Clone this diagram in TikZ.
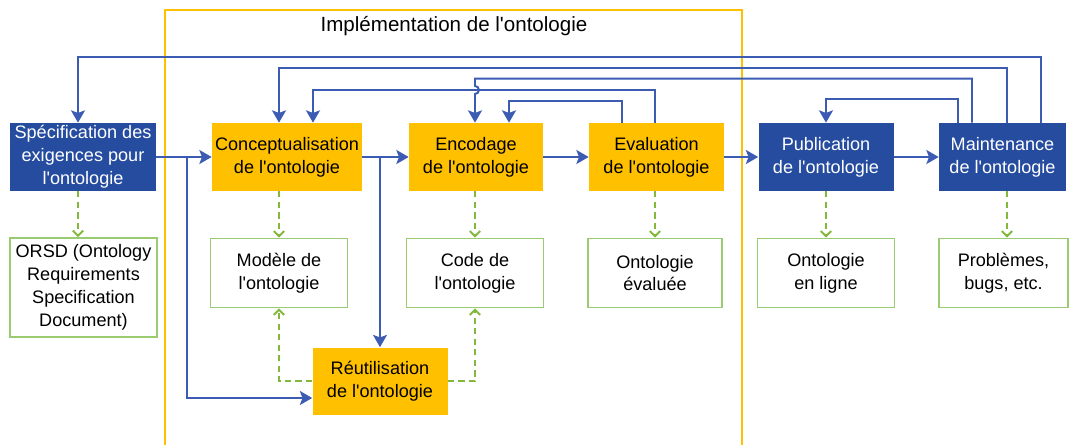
\documentclass[tikz,border=0pt]{standalone}
\usepackage{fontspec}
\setmainfont{Liberation Sans}[Ligatures=TeXOff]
\usetikzlibrary{arrows.meta}
\newdimen\pxu \pxu=0.02cm
\definecolor{boxblue}{RGB}{38,76,160}
\definecolor{lineblue}{RGB}{60,92,180}
\definecolor{gold}{RGB}{255,192,0}
\definecolor{dgreen}{RGB}{130,185,60}
\definecolor{bgreen}{RGB}{155,203,112}
\begin{document}
\begin{tikzpicture}[x=0.02cm,y=-0.02cm,
  base/.style={align=center, inner sep=0pt, font=\fontsize{10.3}{13}\selectfont},
  bluebox/.style={base, fill=boxblue, text=white, minimum height=68\pxu},
  goldbox/.style={base, fill=gold, text=black, minimum height=68\pxu},
  outbox/.style={base, draw=bgreen, line width=0.9pt, fill=white},
  flow/.style={draw=lineblue, line width=1.1pt, -{Stealth[length=7pt,width=8pt,inset=1.5pt]}},
  prod/.style={draw=dgreen, line width=1.1pt, dash pattern=on 3.5pt off 2.5pt, -{Straight Barb[length=3pt,width=6pt]}},
]
\useasboundingbox (0,0) rectangle (1070,445);
% implementation frame
\draw[gold, line width=0.9pt] (165,445) -- (165,10) -- (742,10) -- (742,445);
\node[font=\fontsize{11.7}{14}\selectfont] (title) at (454,26) {Implémentation de l'ontologie};

% process boxes
\node[bluebox, minimum width=146\pxu] (spec) at (83,157) {Spécification des\\exigences pour\\l'ontologie};
\node[goldbox, minimum width=150\pxu] (concept) at (287,157) {Conceptualisation\\de l'ontologie};
\node[goldbox, minimum width=134\pxu] (enc) at (476,157) {Encodage\\de l'ontologie};
\node[goldbox, minimum width=135\pxu] (eval) at (656.5,157) {Evaluation\\de l'ontologie};
\node[bluebox, minimum width=135\pxu] (pub) at (826,157) {Publication\\de l'ontologie};
\node[bluebox, minimum width=127\pxu] (maint) at (1002.5,157) {Maintenance\\de l'ontologie};
\node[goldbox, minimum width=135\pxu, minimum height=67\pxu] (reuse) at (380,381) {Réutilisation\\de l'ontologie};

% output boxes
\node[outbox, minimum width=147\pxu, minimum height=99\pxu] (orsd) at (83.5,287.5) {ORSD (Ontology\\Requirements\\Specification\\Document)};
\node[outbox, minimum width=137\pxu, minimum height=69\pxu] (mod) at (279,273) {Modèle de\\l'ontologie};
\node[outbox, minimum width=137\pxu, minimum height=69\pxu] (code) at (475,273) {Code de\\l'ontologie};
\node[outbox, minimum width=134\pxu, minimum height=69\pxu] (evalout) at (655,273) {Ontologie\\évaluée};
\node[outbox, minimum width=137\pxu, minimum height=69\pxu] (online) at (826,273) {Ontologie\\en ligne};
\node[outbox, minimum width=129\pxu, minimum height=69\pxu] (prob) at (1003.5,273) {Problèmes,\\bugs, etc.};

% forward flow
\draw[flow] (spec) -- (concept);
\draw[flow] (concept) -- (enc);
\draw[flow] (enc) -- (eval);
\draw[flow] (eval) -- (pub);
\draw[flow] (pub) -- (maint);
\draw[flow] ([xshift=31\pxu]spec.east) |- ([yshift=-17\pxu]reuse.west);
\draw[flow] (reuse.north |- concept.east) -- (reuse.north);

% feedback loops
\coordinate (hop) at (475,90);
\draw[flow] ([xshift=38.5\pxu]maint.north) -- ++(0,-66) -| ([xshift=-5\pxu]spec.north);
\draw[flow] ([xshift=4.5\pxu]maint.north) -- ++(0,-55) -| ([xshift=-8\pxu]concept.north);
\draw[flow] ([xshift=-30.5\pxu]maint.north) -- ++(0,-44) -| ([yshift=4\pxu]hop)
  arc[start angle=90, end angle=-90, radius=4\pxu] -- ([xshift=-1\pxu]enc.north);
\draw[flow] ([xshift=-1.5\pxu]eval.north) -- ++(0,-33) -| ([xshift=26\pxu]concept.north);
\draw[flow] ([xshift=-34.5\pxu]eval.north) -- ++(0,-22) -| ([xshift=33\pxu]enc.north);
\draw[flow] ([xshift=-44.5\pxu]maint.north) -- ++(0,-24) -| (pub.north);

% products
\draw[prod] ([xshift=-5\pxu]spec.south) -- ([xshift=-5.5\pxu]orsd.north);
\draw[prod] (concept.south -| mod.north) -- (mod.north);
\draw[prod] (enc.south -| code.north) -- (code.north);
\draw[prod] (eval.south -| evalout.north) -- (evalout.north);
\draw[prod] (pub.south -| online.north) -- (online.north);
\draw[prod] ([xshift=4.5\pxu]maint.south) -- ([xshift=3.5\pxu]prob.north);
\draw[prod] (reuse.west) -| (mod.south);
\draw[prod] (reuse.east) -| (code.south);
\end{tikzpicture}
\end{document}
